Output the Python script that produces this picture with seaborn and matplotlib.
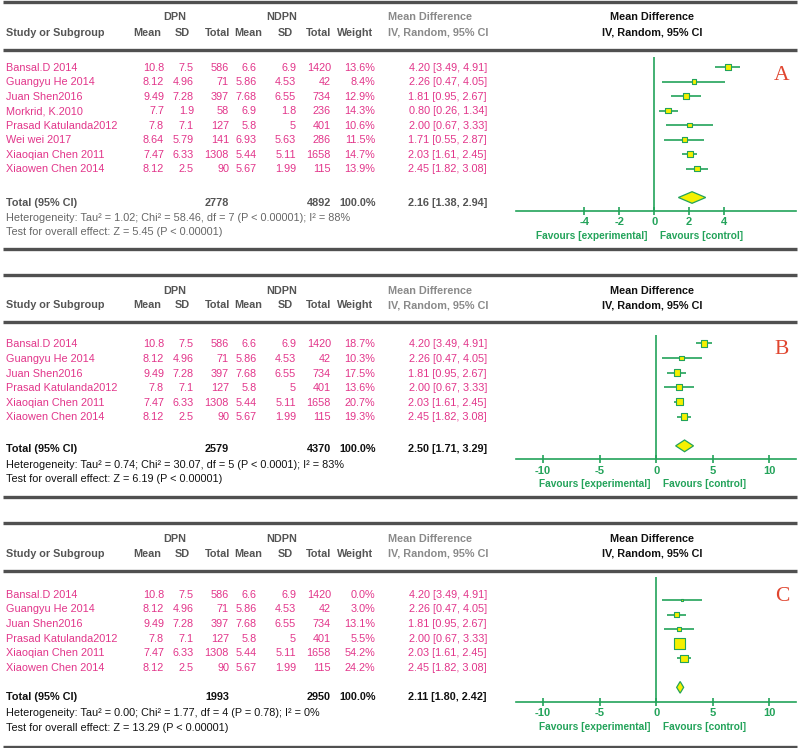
import numpy as np
import pandas as pd
import matplotlib
matplotlib.use("Agg")
import matplotlib.pyplot as plt
import seaborn as sns

# ---- data ----
studies = ['Bansal.D 2014', 'Guangyu He 2014', 'Juan Shen2016', 'Morkrid, K.2010',
           'Prasad Katulanda2012', 'Wei wei 2017', 'Xiaoqian Chen 2011', 'Xiaowen Chen 2014']
dpn_mean = [10.8, 8.12, 9.49, 7.7, 7.8, 8.64, 7.47, 8.12]
dpn_sd = [7.5, 4.96, 7.28, 1.9, 7.1, 5.79, 6.33, 2.5]
dpn_total = [586, 71, 397, 58, 127, 141, 1308, 90]
ndpn_mean = [6.6, 5.86, 7.68, 6.9, 5.8, 6.93, 5.44, 5.67]
ndpn_sd = [6.9, 4.53, 6.55, 1.8, 5, 5.63, 5.11, 1.99]
ndpn_total = [1420, 42, 734, 236, 401, 286, 1658, 115]
md = [4.20, 2.26, 1.81, 0.80, 2.00, 1.71, 2.03, 2.45]
ci_lo = [3.49, 0.47, 0.95, 0.26, 0.67, 0.55, 1.61, 1.82]
ci_hi = [4.91, 4.05, 2.67, 1.34, 3.33, 2.87, 2.45, 3.08]

panel_names = ['A', 'B', 'C']
panel_studies = [[0, 1, 2, 3, 4, 5, 6, 7], [0, 1, 2, 4, 6, 7], [0, 1, 2, 4, 6, 7]]
panel_weights = [[13.6, 8.4, 12.9, 14.3, 10.6, 11.5, 14.7, 13.9],
                 [18.7, 10.3, 17.5, 13.6, 20.7, 19.3],
                 [0.0, 3.0, 13.1, 5.5, 54.2, 24.2]]
total_dpn = [2778, 2579, 1993]
total_ndpn = [4892, 4370, 2950]
total_md = [2.16, 2.50, 2.11]
total_lo = [1.38, 1.71, 1.80]
total_hi = [2.94, 3.29, 2.42]
heterogeneity = ['Heterogeneity: Tau\u00b2 = 1.02; Chi\u00b2 = 58.46, df = 7 (P < 0.00001); I\u00b2 = 88%',
                 'Heterogeneity: Tau\u00b2 = 0.74; Chi\u00b2 = 30.07, df = 5 (P < 0.0001); I\u00b2 = 83%',
                 'Heterogeneity: Tau\u00b2 = 0.00; Chi\u00b2 = 1.77, df = 4 (P = 0.78); I\u00b2 = 0%']
overall = ['Test for overall effect: Z = 5.45 (P < 0.00001)',
           'Test for overall effect: Z = 6.19 (P < 0.00001)',
           'Test for overall effect: Z = 13.29 (P < 0.00001)']
axis_ticks = [[-4, -2, 0, 2, 4], [-10, -5, 0, 5, 10], [-10, -5, 0, 5, 10]]

# ---- layout (pixels) ----
W, H = 800, 748
layouts = [
    dict(top=1.5, hdr1=16, hdr2=32, hline=50, row0=67, step=14.5, total=202, het=217, test=231.5,
         bottom=249, ftop=57, frow0=67, axis=211, xlim=(-7.9, 8.1), letter=72),
    dict(top=275, hdr1=290, hdr2=304.5, hline=322, row0=343.3, step=14.65, total=448.3, het=464.3,
         test=478.3, bottom=497.3, ftop=335, frow0=343.3, axis=459.5, xlim=(-12.4, 12.35), letter=346),
    dict(top=522.7, hdr1=538, hdr2=553, hline=570.7, row0=594, step=14.55, total=696, het=711.7,
         test=727.3, bottom=746.5, ftop=577, frow0=585.5, axis=701.7, xlim=(-12.4, 12.35), letter=593),
]
hdr_x = dict(mean1=161, sd1=190, tot1=230, mean2=262, sd2=293, tot2=331, weight=373)
dat_x = dict(mean1=164, sd1=194, tot1=229, mean2=257, sd2=296, tot2=331, weight=375)

PINK = '#e2358a'
GREEN = '#23a35a'
YELLOW = '#f5f000'
HDR = '#555555'
LINE = '#505050'
FS = 7.8

sns.set_theme(style="white")
plt.rcParams['font.family'] = ['Liberation Sans', 'DejaVu Sans']
plt.rcParams['axes.unicode_minus'] = False

fig = plt.figure(figsize=(8, 7.48), dpi=100)
base = fig.add_axes([0, 0, 1, 1])
base.set_xlim(0, W)
base.set_ylim(H, 0)
base.axis('off')


def txt(x, y, s, ha='left', size=FS, **kw):
    # y is the visual centre of capitals, convert to baseline
    base.text(x, y + 0.36 * size * 100 / 72, s, ha=ha, va='baseline', fontsize=size, **kw)


def hrule(y):
    base.plot([3, 797], [y, y], color=LINE, lw=2.4, solid_capstyle='butt')


for p, L in enumerate(layouts):
    idx = panel_studies[p]
    wts = panel_weights[p]
    df = pd.DataFrame({
        'study': [studies[i] for i in idx],
        'md': [md[i] for i in idx],
        'lo': [ci_lo[i] for i in idx],
        'hi': [ci_hi[i] for i in idx],
        'weight': wts,
    })
    df['row'] = np.arange(len(df))
    n = len(df)

    hrule(L['top'])
    hrule(L['hline'])
    hrule(L['bottom'])

    # header
    txt(175, L['hdr1'], 'DPN', ha='center', weight='bold', color=HDR)
    txt(282, L['hdr1'], 'NDPN', ha='center', weight='bold', color=HDR)
    txt(6, L['hdr2'], 'Study or Subgroup', weight='bold', color=HDR)
    for key, lab in [('mean1', 'Mean'), ('sd1', 'SD'), ('tot1', 'Total'), ('mean2', 'Mean'),
                     ('sd2', 'SD'), ('tot2', 'Total'), ('weight', 'Weight')]:
        txt(hdr_x[key], L['hdr2'], lab, ha='right', weight='bold', color=HDR)
    txt(388, L['hdr1'], 'Mean Difference', weight='bold', color='#8a8a8a')
    txt(388, L['hdr2'], 'IV, Random, 95% CI', weight='bold', color='#8a8a8a')
    txt(652, L['hdr1'], 'Mean Difference', ha='center', weight='bold', color='#111111')
    txt(652, L['hdr2'], 'IV, Random, 95% CI', ha='center', weight='bold', color='#111111')

    # study rows
    for r, i in enumerate(idx):
        y = L['row0'] + r * L['step']
        txt(6, y, studies[i], color=PINK)
        txt(dat_x['mean1'], y, f"{dpn_mean[i]:g}", ha='right', color=PINK)
        txt(dat_x['sd1'], y, f"{dpn_sd[i]:g}", ha='right', color=PINK)
        txt(dat_x['tot1'], y, f"{dpn_total[i]}", ha='right', color=PINK)
        txt(dat_x['mean2'], y, f"{ndpn_mean[i]:g}", ha='right', color=PINK)
        txt(dat_x['sd2'], y, f"{ndpn_sd[i]:g}", ha='right', color=PINK)
        txt(dat_x['tot2'], y, f"{ndpn_total[i]}", ha='right', color=PINK)
        txt(dat_x['weight'], y, f"{wts[r]:.1f}%", ha='right', color=PINK)
        txt(487, y, f"{md[i]:.2f} [{ci_lo[i]:.2f}, {ci_hi[i]:.2f}]", ha='right', color=PINK)

    # totals
    tcol = HDR if p == 0 else '#111111'
    scol = '#666666' if p == 0 else '#111111'
    txt(6, L['total'], 'Total (95% CI)', weight='bold', color=tcol)
    txt(dat_x['tot1'], L['total'], f"{total_dpn[p]}", ha='right', weight='bold', color=tcol)
    txt(dat_x['tot2'], L['total'], f"{total_ndpn[p]}", ha='right', weight='bold', color=tcol)
    txt(dat_x['weight'] + 1, L['total'], '100.0%', ha='right', weight='bold', color=tcol)
    txt(487, L['total'], f"{total_md[p]:.2f} [{total_lo[p]:.2f}, {total_hi[p]:.2f}]",
        ha='right', weight='bold', color=tcol)
    txt(6, L['het'], heterogeneity[p], color=scol)
    txt(6, L['test'], overall[p], color=scol)

    # panel letter
    txt(782, L['letter'], panel_names[p], ha='center', size=15.5, color='#e0452f',
        family=['Liberation Serif', 'DejaVu Serif'])

    # forest plot
    x0, x1 = 516, 796
    fa = fig.add_axes([x0 / W, 1 - L['axis'] / H, (x1 - x0) / W, (L['axis'] - L['ftop']) / H])
    fa.patch.set_alpha(0)
    step = L['step']
    fa.set_ylim((L['axis'] - L['frow0']) / step, (L['ftop'] - L['frow0']) / step)
    fa.set_xlim(*L['xlim'])
    fa.axvline(0, color=GREEN, lw=1.2, zorder=1)

    shown = df[df['weight'] > 0]
    fa.hlines(shown['row'], shown['lo'], shown['hi'], color=GREEN, lw=1.2, zorder=2)
    side_pt = 1.5 * np.sqrt(shown['weight'].values) * 0.72
    sns.scatterplot(data=shown, x='md', y='row', marker='s', s=side_pt ** 2, color=YELLOW,
                    edgecolor=GREEN, linewidth=0.8, legend=False, ax=fa, zorder=3)
    yd = n + 1
    fa.fill([total_lo[p], total_md[p], total_hi[p], total_md[p]],
            [yd, yd - 0.4, yd, yd + 0.4], facecolor=YELLOW, edgecolor=GREEN, lw=0.9, zorder=3)

    for s in ['top', 'left', 'right']:
        fa.spines[s].set_visible(False)
    fa.spines['bottom'].set_color(GREEN)
    fa.spines['bottom'].set_linewidth(1.2)
    fa.set_yticks([])
    fa.set_xticks(axis_ticks[p])
    fa.set_xticklabels([str(t) for t in axis_ticks[p]], fontweight='bold')
    fa.tick_params(axis='x', direction='inout', length=6, width=1.2, colors=GREEN,
                   labelsize=8, pad=1.5, bottom=True)
    fa.set_xlabel('')
    fa.set_ylabel('')
    fa.annotate('Favours [experimental]', xy=(0, 0), xycoords=('data', 'axes fraction'),
                xytext=(-4.5, -18), textcoords='offset points', ha='right', va='center',
                fontsize=7.3, fontweight='bold', color=GREEN, annotation_clip=False)
    fa.annotate('Favours [control]', xy=(0, 0), xycoords=('data', 'axes fraction'),
                xytext=(4.5, -18), textcoords='offset points', ha='left', va='center',
                fontsize=7.3, fontweight='bold', color=GREEN, annotation_clip=False)

fig.savefig('out.png', dpi=100)
